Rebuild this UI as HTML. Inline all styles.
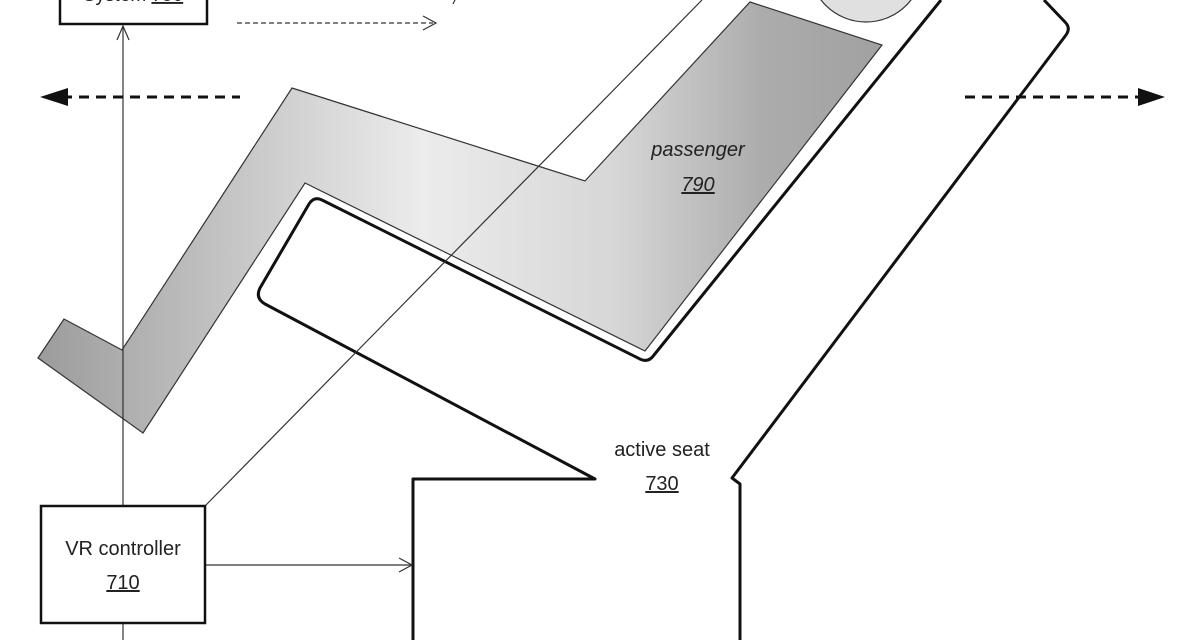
<!DOCTYPE html>
<html><head><meta charset="utf-8"><style>
html,body{margin:0;padding:0;background:#fff;}
svg{display:block;}
text{font-family:"Liberation Sans",sans-serif;fill:#222;}
</style></head><body>
<svg width="1200" height="640" viewBox="0 0 1200 640" xmlns="http://www.w3.org/2000/svg">
<defs>
<linearGradient id="g" x1="40" y1="0" x2="890" y2="0" gradientUnits="userSpaceOnUse">
<stop offset="0" stop-color="#9c9c9c"/>
<stop offset="0.22" stop-color="#c4c4c4"/>
<stop offset="0.45" stop-color="#ececec"/>
<stop offset="0.68" stop-color="#d6d6d6"/>
<stop offset="0.85" stop-color="#acacac"/>
<stop offset="1" stop-color="#a0a0a0"/>
</linearGradient>
</defs>
<!-- head -->
<circle cx="866" cy="-35" r="57" fill="#e0e0e0" stroke="#333" stroke-width="1.2"/>
<!-- passenger body -->
<polygon points="38,358 64,319 122,350 292,88 585,181 750,2 882,45 645,351 305,183 143,433" fill="url(#g)" stroke="#333" stroke-width="1.2"/>
<!-- seat outline -->
<path d="M941,0 L654,355 Q648,364 638,358 L322,200 Q314,196 309,204 L260,288 Q255,298 265,304 L595,479 L413,479 L413,640" fill="none" stroke="#111" stroke-width="3" stroke-linejoin="round"/>
<path d="M1044,0 L1065,22 Q1071,28 1066,35 L732,478 L740,484 L740,640" fill="none" stroke="#111" stroke-width="3" stroke-linejoin="round"/>
<!-- thin lines -->
<line x1="123" y1="26" x2="123" y2="640" stroke="#333" stroke-width="1.2"/>
<polyline points="117,40 123,26 129,40" fill="none" stroke="#333" stroke-width="1.2"/>
<line x1="205" y1="506" x2="702" y2="0" stroke="#333" stroke-width="1.2"/>
<line x1="205" y1="565" x2="412" y2="565" stroke="#333" stroke-width="1.2"/>
<polyline points="399,558 412,565 399,572" fill="none" stroke="#333" stroke-width="1.2"/>
<!-- system box -->
<rect x="60" y="-20" width="147" height="44" fill="#fff" stroke="#111" stroke-width="2.5"/>
<text x="133" y="1" font-size="19" text-anchor="middle">System <tspan text-decoration="underline">750</tspan></text>
<!-- top dashed arrow -->
<line x1="237" y1="23" x2="433" y2="23" stroke="#333" stroke-width="1.2" stroke-dasharray="5,3"/>
<polyline points="423,16 436,23 423,30" fill="none" stroke="#333" stroke-width="1.2"/>
<line x1="455" y1="0" x2="453" y2="4" stroke="#333" stroke-width="1.2"/>
<!-- side dashed arrows -->
<line x1="62" y1="97" x2="240" y2="97" stroke="#111" stroke-width="3" stroke-dasharray="10,7"/>
<polygon points="40,97 68,88 68,106" fill="#111"/>
<line x1="965" y1="97" x2="1143" y2="97" stroke="#111" stroke-width="3" stroke-dasharray="10,7"/>
<polygon points="1165,97 1138,88 1138,106" fill="#111"/>
<!-- VR controller -->
<rect x="41" y="506" width="164" height="117" fill="#fff" stroke="#111" stroke-width="2.5"/>
<text x="123" y="555" font-size="20" text-anchor="middle">VR controller</text>
<text x="123" y="589" font-size="20" text-anchor="middle" text-decoration="underline">710</text>
<!-- labels -->
<text x="662" y="456" font-size="20" text-anchor="middle">active seat</text>
<text x="662" y="490" font-size="20" text-anchor="middle" text-decoration="underline">730</text>
<text x="698" y="156" font-size="20" font-style="italic" text-anchor="middle">passenger</text>
<text x="698" y="191" font-size="20" font-style="italic" text-anchor="middle" text-decoration="underline">790</text>
</svg>
</body></html>
